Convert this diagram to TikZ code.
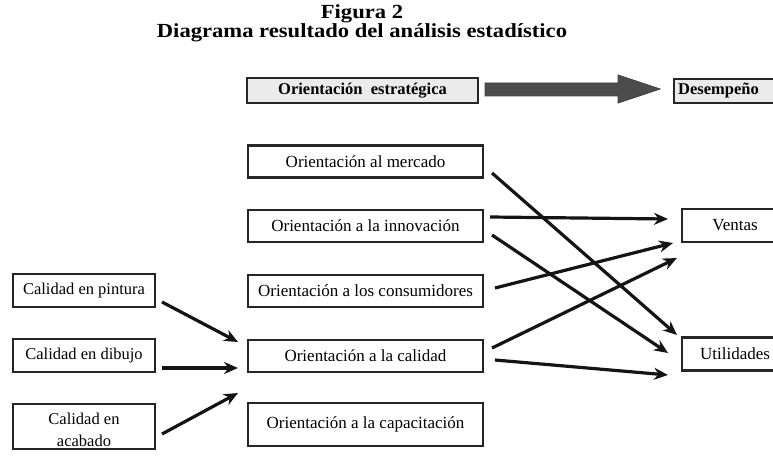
\documentclass[tikz,border=0pt]{standalone}
\usepackage{fontspec}
\setmainfont{Liberation Serif}
\newfontfamily\titlefam[FakeStretch=1.13]{Liberation Serif}
\usetikzlibrary{arrows.meta}
\begin{document}
\begin{tikzpicture}[x=1pt,y=-1pt,
  box/.style={draw=black!85, line width=2.1pt, rectangle, inner sep=0pt, align=center,
    font=\fontsize{17}{21}\selectfont},
  midbox/.style={box, minimum width=235, minimum height=32},
  leftbox/.style={box, minimum width=142, minimum height=33, font=\fontsize{16.5}{22}\selectfont},
  rightbox/.style={box, minimum width=106, minimum height=33},
  topbox/.style={box, line width=2.2pt, fill=black!8, font=\bfseries\fontsize{16.5}{20}\selectfont},
  conn/.style={line width=3.2pt, black!92, -{Stealth[length=14pt,width=12pt]}},
  titlefont/.style={font=\titlefam\bfseries\fontsize{20}{22}\selectfont}]
\useasboundingbox (0,0) rectangle (773,457);
\clip (0,0) rectangle (773,457);
% titles
\node[titlefont] (t1) at (362,14) {Figura 2};
\node[titlefont] (t2) at (362,33) {Diagrama resultado del análisis estadístico};
% top row
\node[topbox, minimum width=231, minimum height=25] (estr) at (362.5,90.5) {Orientación\ \ estratégica};
\node[topbox, minimum width=127, minimum height=24,
      anchor=west, text width=119, align=left, inner xsep=4pt] (desem) at (673,91) {Desempeño};
\draw[fill=black!70, draw=black!75, line width=0.8pt]
  (485,83) -- (618,83) -- (618,75) -- (660,89) -- (618,103) -- (618,96) -- (485,96) -- cycle;
% middle column
\node[midbox] (merc) at (365.5,161.5) {Orientación al mercado};
\node[midbox] (inno) at (365.5,226) {Orientación a la innovación};
\node[midbox] (cons) at (365.5,291) {Orientación a los consumidores};
\node[midbox] (cali) at (365.5,356) {Orientación a la calidad};
\node[midbox, minimum height=43] (capa) at (365.5,424.5) {Orientación a la capacitación};
% left column
\node[leftbox] (pint) at (84,290.5) {Calidad en pintura};
\node[leftbox] (dibu) at (84,355.5) {Calidad en dibujo};
\node[leftbox, minimum height=45] (acab) at (84,426.5) {\rule{0pt}{18pt}Calidad en\\acabado};
% right column
\node[rightbox] (vent) at (735,225.5) {Ventas};
\node[rightbox] (util) at (735,354) {Utilidades};
% connector end points
\coordinate (p1) at (162,302); \coordinate (c1) at (238,342);
\coordinate (p2) at (162,368); \coordinate (c2) at (238,368);
\coordinate (p3) at (162,434); \coordinate (c3) at (238,393);
\coordinate (m1) at (492,173); \coordinate (u1) at (677,335);
\coordinate (i1) at (490,217); \coordinate (v1) at (668,219);
\coordinate (i2) at (492,235); \coordinate (u2) at (668,353);
\coordinate (k1) at (495,288); \coordinate (v2) at (673,243);
\coordinate (q1) at (492,348); \coordinate (v3) at (677,258);
\coordinate (q2) at (495,360); \coordinate (u3) at (668,375);
% connectors
\draw[conn] (p1) -- (c1);
\draw[conn] (p2) -- (c2);
\draw[conn] (p3) -- (c3);
\draw[conn] (m1) -- (u1);
\draw[conn] (i1) -- (v1);
\draw[conn] (i2) -- (u2);
\draw[conn] (k1) -- (v2);
\draw[conn] (q1) -- (v3);
\draw[conn] (q2) -- (u3);
\end{tikzpicture}
\end{document}
